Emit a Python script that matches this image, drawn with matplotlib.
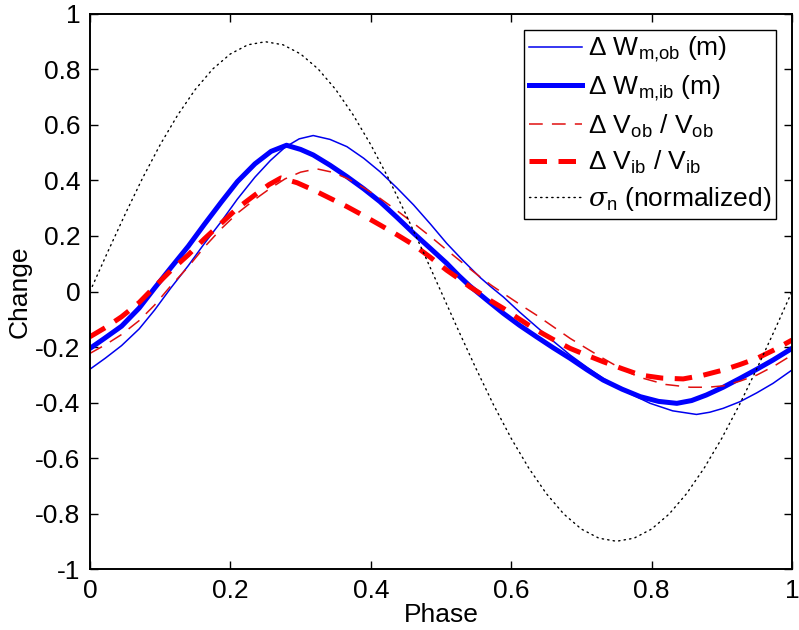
import matplotlib
matplotlib.use("Agg")
import matplotlib.pyplot as plt

plt.rcParams['font.family'] = ['Liberation Sans', 'DejaVu Sans']
plt.rcParams['mathtext.fontset'] = 'custom'
plt.rcParams['mathtext.rm'] = 'Liberation Sans'
plt.rcParams['mathtext.it'] = 'DejaVu Serif:italic'

# values
phase_w_ib = [0, 0.02, 0.045, 0.07, 0.092, 0.115, 0.14, 0.163, 0.187, 0.21, 0.235, 0.258,
              0.28, 0.3, 0.318, 0.342, 0.366, 0.39, 0.413, 0.437, 0.461, 0.485, 0.508, 0.525,
              0.541, 0.565, 0.589, 0.612, 0.636, 0.66, 0.684, 0.708, 0.731, 0.758, 0.784, 0.81,
              0.836, 0.857, 0.878, 0.902, 0.926, 0.95, 0.973, 1.0]
w_ib = [-0.205, -0.17, -0.125, -0.06, 0.012, 0.085, 0.163, 0.242, 0.322, 0.396, 0.46, 0.505,
        0.527, 0.512, 0.492, 0.455, 0.414, 0.37, 0.324, 0.268, 0.21, 0.155, 0.102, 0.058,
        0.02, -0.03, -0.079, -0.122, -0.163, -0.203, -0.241, -0.282, -0.319, -0.352, -0.379, -0.396,
        -0.403, -0.393, -0.373, -0.345, -0.313, -0.28, -0.247, -0.205]

phase_w_ob = [0, 0.022, 0.045, 0.07, 0.092, 0.115, 0.14, 0.163, 0.187, 0.21, 0.235, 0.257,
              0.278, 0.298, 0.318, 0.342, 0.366, 0.39, 0.413, 0.437, 0.461, 0.485, 0.508, 0.532,
              0.556, 0.572, 0.589, 0.612, 0.636, 0.66, 0.684, 0.708, 0.731, 0.765, 0.798, 0.83,
              0.864, 0.883, 0.902, 0.926, 0.95, 0.973, 1.0]
w_ob = [-0.28, -0.24, -0.195, -0.135, -0.067, 0.012, 0.093, 0.173, 0.252, 0.333, 0.412, 0.472,
        0.52, 0.55, 0.562, 0.548, 0.522, 0.48, 0.432, 0.374, 0.312, 0.243, 0.174, 0.11,
        0.05, 0.015, -0.02, -0.074, -0.127, -0.179, -0.229, -0.273, -0.313, -0.363, -0.403, -0.43,
        -0.443, -0.435, -0.421, -0.397, -0.365, -0.331, -0.283]

phase_v_ib = [0, 0.022, 0.045, 0.07, 0.092, 0.115, 0.14, 0.163, 0.187, 0.21, 0.235, 0.255,
              0.272, 0.295, 0.318, 0.342, 0.366, 0.39, 0.413, 0.437, 0.461, 0.485, 0.508, 0.525,
              0.541, 0.556, 0.572, 0.589, 0.612, 0.636, 0.66, 0.684, 0.708, 0.731, 0.758, 0.784,
              0.815, 0.845, 0.873, 0.902, 0.926, 0.95, 0.975, 1.0]
v_ib = [-0.163, -0.13, -0.091, -0.04, 0.017, 0.075, 0.132, 0.19, 0.246, 0.3, 0.348, 0.385,
        0.409, 0.392, 0.366, 0.336, 0.306, 0.273, 0.24, 0.205, 0.168, 0.123, 0.077, 0.047,
        0.017, -0.007, -0.035, -0.061, -0.1, -0.139, -0.173, -0.205, -0.23, -0.253, -0.278, -0.301,
        -0.312, -0.315, -0.302, -0.283, -0.263, -0.241, -0.21, -0.175]

phase_v_ob = [0, 0.022, 0.045, 0.07, 0.092, 0.115, 0.14, 0.163, 0.187, 0.21, 0.235, 0.257,
              0.278, 0.3, 0.323, 0.345, 0.366, 0.39, 0.413, 0.437, 0.461, 0.485, 0.508, 0.525,
              0.541, 0.556, 0.572, 0.589, 0.612, 0.636, 0.66, 0.684, 0.708, 0.731, 0.758, 0.784,
              0.82, 0.855, 0.88, 0.902, 0.926, 0.95, 0.975, 1.0]
v_ob = [-0.223, -0.192, -0.155, -0.105, -0.049, 0.02, 0.089, 0.16, 0.226, 0.282, 0.332, 0.372,
        0.406, 0.43, 0.442, 0.43, 0.408, 0.374, 0.336, 0.292, 0.246, 0.198, 0.15, 0.115,
        0.082, 0.052, 0.022, -0.007, -0.046, -0.085, -0.127, -0.169, -0.206, -0.241, -0.28, -0.31,
        -0.335, -0.345, -0.345, -0.34, -0.323, -0.301, -0.268, -0.229]

phase_sigma = [0, 0.025, 0.05, 0.075, 0.1, 0.125, 0.15, 0.175, 0.2, 0.225, 0.25,
               0.275, 0.3, 0.325, 0.35, 0.375, 0.4, 0.425, 0.45, 0.475, 0.5,
               0.525, 0.55, 0.575, 0.6, 0.625, 0.65, 0.675, 0.7, 0.725, 0.75,
               0.775, 0.8, 0.825, 0.85, 0.875, 0.9, 0.925, 0.95, 0.975, 1.0]
sigma_n = [0, 0.141, 0.278, 0.409, 0.529, 0.636, 0.728, 0.802, 0.856, 0.889, 0.9,
           0.889, 0.856, 0.802, 0.728, 0.636, 0.529, 0.409, 0.278, 0.141, 0,
           -0.141, -0.278, -0.409, -0.529, -0.636, -0.728, -0.802, -0.856, -0.889, -0.9,
           -0.889, -0.856, -0.802, -0.728, -0.636, -0.529, -0.409, -0.278, -0.141, 0]

xticks = [0, 0.2, 0.4, 0.6, 0.8, 1]
xtick_labels = ['0', '0.2', '0.4', '0.6', '0.8', '1']
yticks = [-1, -0.8, -0.6, -0.4, -0.2, 0, 0.2, 0.4, 0.6, 0.8, 1]
ytick_labels = ['-1', '-0.8', '-0.6', '-0.4', '-0.2', '0', '0.2', '0.4', '0.6', '0.8', '1']

fig = plt.figure(figsize=(7.99, 6.30), dpi=100)
ax = fig.add_axes([0.1126, 0.0968, 0.8786, 0.881])

ax.plot(phase_w_ob, w_ob, color='#0000ee', lw=1.1, label=r'Δ W$_{\rm m{,}ob}$ (m)')
ax.plot(phase_w_ib, w_ib, color='#0000ff', lw=3.6, solid_joinstyle='round',
        label=r'Δ W$_{\rm m{,}ib}$ (m)')
ax.plot(phase_v_ob, v_ob, color='#e01010', lw=1.1, dashes=(9, 6),
        label=r'Δ V$_{\rm ob}$ / V$_{\rm ob}$')
ax.plot(phase_v_ib, v_ib, color='#ff0000', lw=3.6, dashes=(3.5, 2.3),
        label=r'Δ V$_{\rm ib}$ / V$_{\rm ib}$')
ax.plot(phase_sigma, sigma_n, color='black', lw=1.0, dashes=(1, 3), dash_capstyle='round',
        label=r'$\sigma_{\rm n}$ (normalized)')

ax.set_xlim(0, 1)
ax.set_ylim(-1, 1)
ax.set_xticks(xticks)
ax.set_xticklabels(xtick_labels)
ax.set_yticks(yticks)
ax.set_yticklabels(ytick_labels)
ax.tick_params(direction='in', length=6, width=1, labelsize=19, top=True, right=True, pad=7)
for s in ax.spines.values():
    s.set_linewidth(1.4)

ax.set_xlabel('Phase', fontsize=19, labelpad=0)
ax.set_ylabel('Change', fontsize=19, labelpad=2)

leg = ax.legend(loc='upper right', fontsize=19, frameon=True, fancybox=False,
                edgecolor='black', framealpha=1, borderaxespad=0.6,
                handlelength=2.0, handletextpad=0.2, labelspacing=0.35, borderpad=0.2)
leg.get_frame().set_linewidth(1.0)

fig.savefig('out.png', dpi=100)
